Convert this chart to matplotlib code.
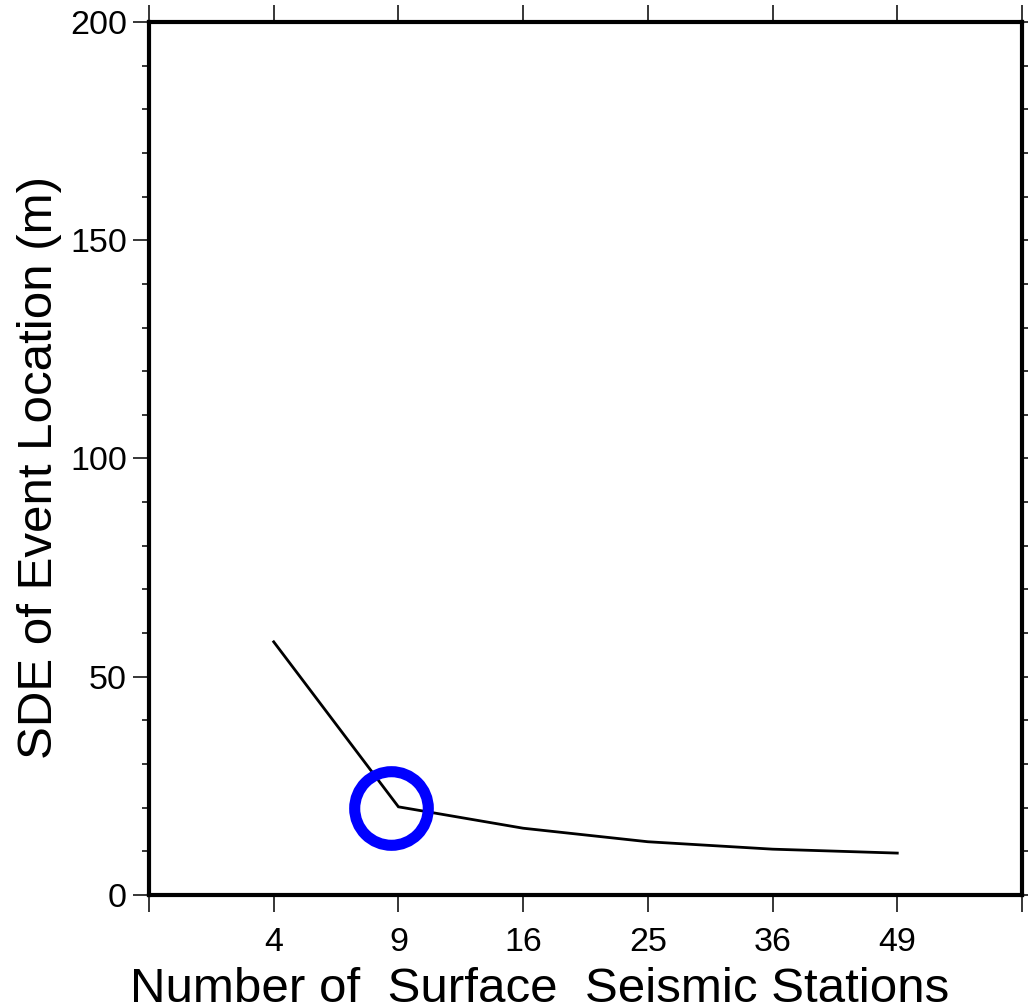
import matplotlib
matplotlib.use("Agg")
import matplotlib.pyplot as plt
from matplotlib.ticker import MultipleLocator, FixedLocator

# ---- data ----
stations = ["4", "9", "16", "25", "36", "49"]
sde_m = [58.0, 20.2, 15.3, 12.2, 10.5, 9.6]
highlight_pos = 0.94      # category index (0-based) of the circled point, slightly left of "9"
highlight_val = 20.0

plt.rcParams['font.family'] = ['Liberation Sans', 'DejaVu Sans']

fig = plt.figure(figsize=(10.28, 10.08), dpi=100)
ax = fig.add_axes([149/1028, 1 - 895/1008, (1022 - 149)/1028, (895 - 22)/1008])

xpos = list(range(1, len(stations) + 1))
ax.plot(xpos, sde_m, color='black', lw=2.0, solid_joinstyle='miter')
ax.plot([highlight_pos + 1], [highlight_val], marker='o', ms=53, mfc='none',
        mec='#0000ff', mew=8, ls='none')

ax.set_xlim(0, len(stations) + 1)
ax.set_ylim(0, 200)

ax.xaxis.set_major_locator(FixedLocator(list(range(0, len(stations) + 2))))
ax.set_xticklabels([""] + stations + [""])
ax.yaxis.set_major_locator(MultipleLocator(50))
ax.yaxis.set_minor_locator(MultipleLocator(10))

for s in ax.spines.values():
    s.set_linewidth(3.0)

ax.tick_params(axis='both', which='major', direction='out', labelsize=24.5, width=1.1)
ax.tick_params(axis='x', which='major', length=12, top=True, pad=11)
ax.tick_params(axis='y', which='major', length=11.5, right=True, pad=4.3)
ax.tick_params(axis='y', which='minor', direction='out', length=5.3, width=1.1, right=True)

ax.set_xlabel("Number of  Surface  Seismic Stations", fontsize=35.5)
ax.xaxis.set_label_coords(0.447, -0.083)
ax.set_ylabel("SDE of Event Location (m)", fontsize=35.5)
ax.yaxis.set_label_coords(-0.10, 0.49)

fig.savefig("out.png", dpi=100)
